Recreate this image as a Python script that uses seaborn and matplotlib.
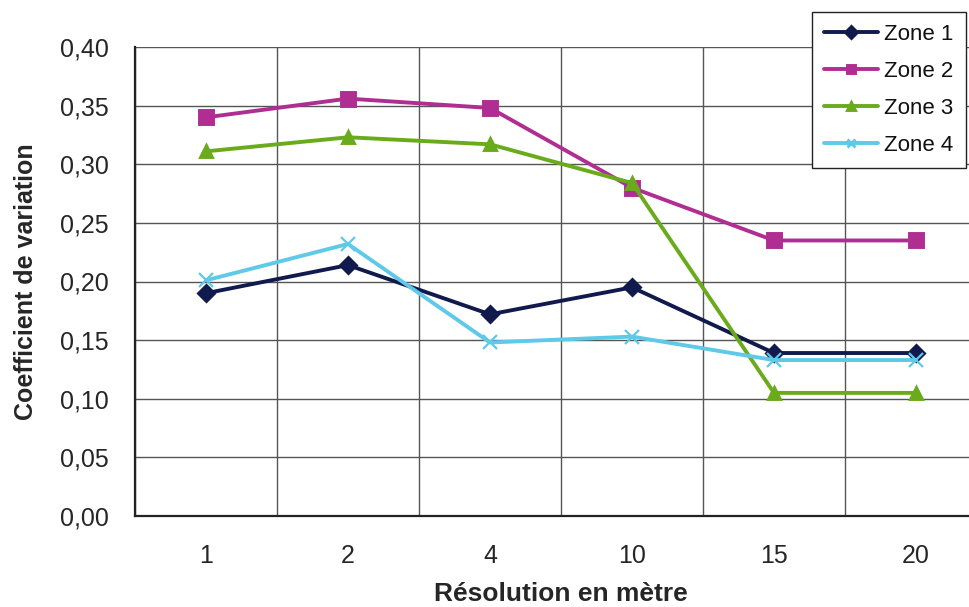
import numpy as np
import pandas as pd
import matplotlib
matplotlib.use("Agg")
import matplotlib.pyplot as plt
import seaborn as sns

# valeurs
resolutions = ["1", "2", "4", "10", "15", "20"]
zone1 = [0.190, 0.214, 0.172, 0.195, 0.139, 0.139]
zone2 = [0.340, 0.356, 0.348, 0.280, 0.235, 0.235]
zone3 = [0.311, 0.323, 0.317, 0.284, 0.105, 0.105]
zone4 = [0.201, 0.232, 0.148, 0.153, 0.133, 0.133]
zones = ["Zone 1", "Zone 2", "Zone 3", "Zone 4"]
y_ticks = [0.00, 0.05, 0.10, 0.15, 0.20, 0.25, 0.30, 0.35, 0.40]

colors = ["#101a4c", "#b02e92", "#6aab1c", "#5ec9e8"]
markers = ["D", "s", "^", "x"]

rows = []
for name, vals in zip(zones, [zone1, zone2, zone3, zone4]):
    for r, v in zip(resolutions, vals):
        rows.append({"res": r, "cv": v, "zone": name})
df = pd.DataFrame(rows)

sns.set_style("white")
plt.rcParams["font.family"] = ["Liberation Sans", "DejaVu Sans"]

fig = plt.figure(figsize=(9.7, 6.07), dpi=100)
ax = fig.add_axes([135 / 970, 1 - 516 / 607, 852 / 970, 469 / 607])

sns.pointplot(data=df, x="res", y="cv", hue="zone", order=resolutions,
              palette=colors, markers=markers, linestyles="-",
              ax=ax, errorbar=None, markersize=8, linewidth=2.8)

# petits ajustements des marqueurs (taille par type)
for line, m in zip(ax.lines, markers):
    if m == "s":
        line.set_markersize(10)
    elif m == "x":
        line.set_markeredgewidth(1.6)
        line.set_markersize(10)

ax.set_xlim(-0.5, 5.5)
ax.set_ylim(0, 0.40)
ax.set_yticks(y_ticks)
ax.set_yticklabels([f"{t:.2f}".replace(".", ",") for t in y_ticks], fontsize=18)
ax.set_xticks(range(len(resolutions)))
ax.set_xticklabels(resolutions, fontsize=18)
ax.set_xticks(np.arange(-0.5, 5.6, 1), minor=True)

ax.tick_params(axis="x", which="major", length=0, pad=20)
ax.tick_params(axis="x", which="minor", length=6, width=1.2, color="#333333", direction="out")
ax.tick_params(axis="y", length=7, width=1.2, color="#333333", direction="out", pad=12)

ax.grid(True, axis="y", color="#555555", linewidth=1.0)
ax.grid(True, axis="x", which="minor", color="#555555", linewidth=1.0)
ax.set_axisbelow(True)

for s in ["top", "right"]:
    ax.spines[s].set_visible(False)
for s in ["left", "bottom"]:
    ax.spines[s].set_color("#222222")
    ax.spines[s].set_linewidth(1.6)

ax.set_xlabel("Résolution en mètre", fontsize=19, fontweight="bold", labelpad=10)
ax.set_ylabel("Coefficient de variation", fontsize=18, fontweight="bold", labelpad=16)

leg = ax.legend(loc="upper left", bbox_to_anchor=(812 / 970, 1 - 12 / 607),
                bbox_transform=fig.transFigure, borderaxespad=0, fontsize=16,
                frameon=True, fancybox=False, edgecolor="#222222", framealpha=1,
                handlelength=2.4, handletextpad=0.3, labelspacing=0.72,
                borderpad=0.55, markerscale=0.75, title=None)
leg.get_frame().set_linewidth(1.0)
for t in leg.get_texts():
    t.set_color("#111111")

fig.savefig("out.png", dpi=100)
